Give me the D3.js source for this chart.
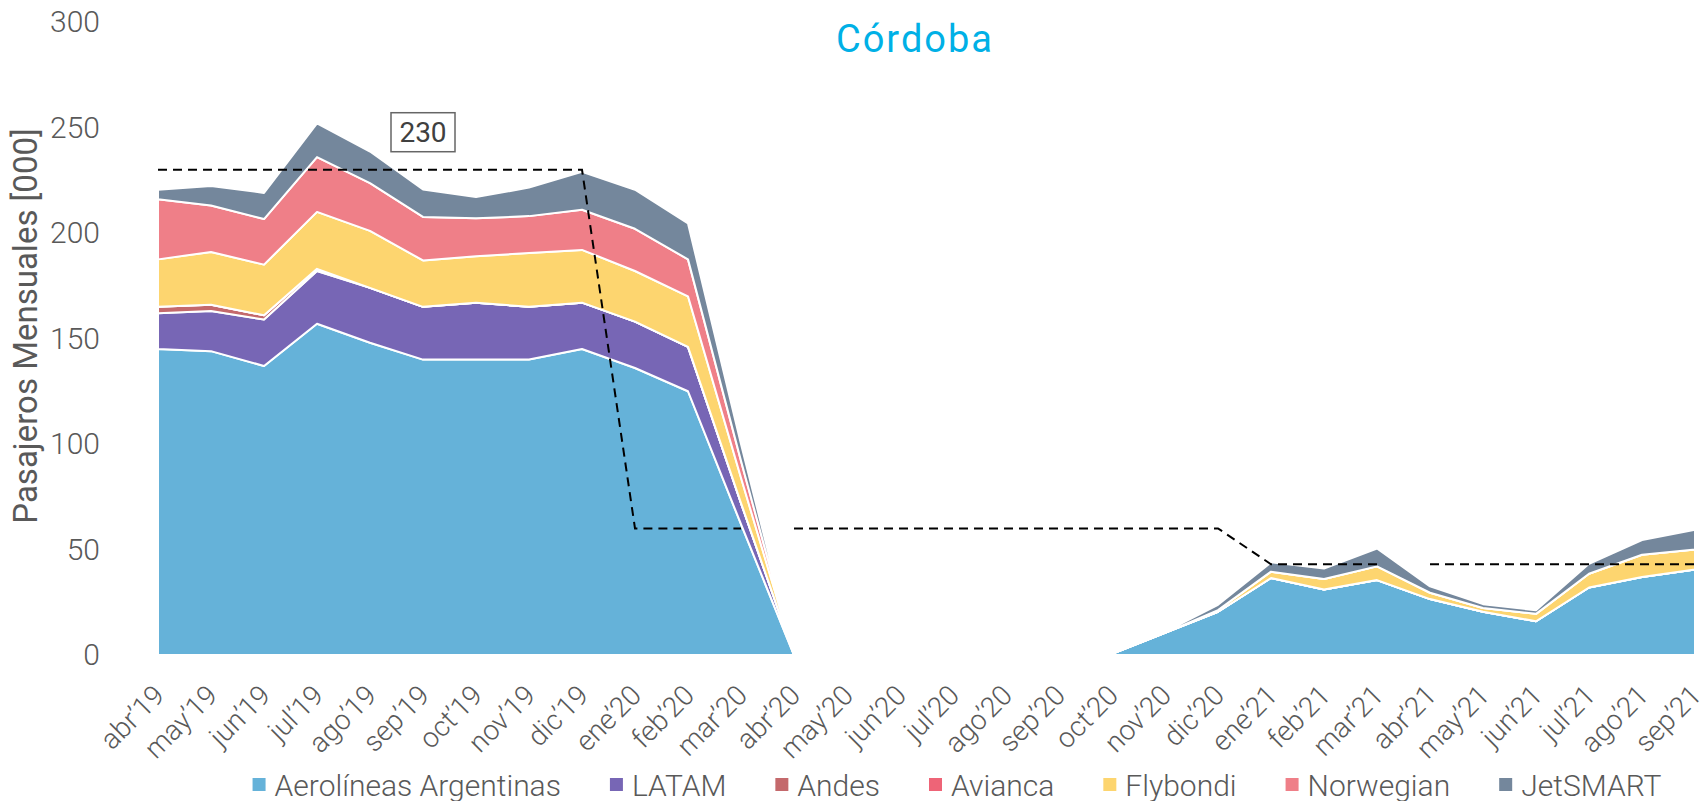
<!DOCTYPE html>
<html>
<head>
<meta charset="utf-8">
<script src="https://cdn.jsdelivr.net/npm/d3@7"></script>
<style>
  body { margin: 0; background: #fff; }
  text { font-family: Roboto, "Noto Sans", sans-serif; }
</style>
</head>
<body>
<div id="chart"></div>
<script>
const w = 1708;
const h = 801;

// months on the x axis
const months = ["abr’19","may’19","jun’19","jul’19","ago’19","sep’19","oct’19","nov’19","dic’19",
  "ene’20","feb’20","mar’20","abr’20","may’20","jun’20","jul’20","ago’20","sep’20","oct’20","nov’20","dic’20",
  "ene’21","feb’21","mar’21","abr’21","may’21","jun’21","jul’21","ago’21","sep’21"];

// monthly passengers [000] per airline
const aerolineas = [145,144,137,157,148,140,140,140,145,136,125,62,0,0,0,0,0,0,0.5,10.5,20.5,36.5,31,35.5,26.5,20.5,16,32,37,40.5];
const latam      = [17,19,22,25,26,25,27,25,22,22,21,10,0,0,0,0,0,0,0,0,0,0,0,0,0,0,0,0,0,0];
const andes      = [3,3,2,1,0,0,0,0,0,0,0,0,0,0,0,0,0,0,0,0,0,0,0,0,0,0,0,0,0,0];
const avianca    = [0,0,0,0,0,0,0,0,0,0,0,0,0,0,0,0,0,0,0,0,0,0,0,0,0,0,0,0,0,0];
const flybondi   = [22.5,25,24,27,27,22,22,25.5,25,24,24,12,0,0,0,0,0,0,0,0,0.8,3,5,6.5,3,1.8,3.5,6.5,10.5,9.5];
const norwegian  = [28.5,22,21.6,26,22.6,20.6,18,17.5,19,20,17.5,8,0,0,0,0,0,0,0,0,0,0,0,0,0,0,0,0,0,0];
const jetsmart   = [4.5,9.3,12.4,16,15,13,10,13.5,18,18.5,17,8,0,0,0,0,0,0,0,0.5,2.5,4.4,5,8.5,3,1.8,1.7,4.7,7,9.4];

const airlines = ["Aerolíneas Argentinas","LATAM","Andes","Avianca","Flybondi","Norwegian","JetSMART"];
const series = [aerolineas, latam, andes, avianca, flybondi, norwegian, jetsmart];
const colors = ["#65b2d9","#7766b5","#c4696c","#ee6477","#fdd56f","#ef7f88","#74879c"];

// dashed reference line (yearly level), no segment after these months
const refValues = [230,230,230,230,230,230,230,230,230,
  60,60,60,60,60,60,60,60,60,60,60,60,
  43,43,43,43,43,43,43,43,43];
const refBreaks = ["mar’20","mar’21"];

const yTicks = [0,50,100,150,200,250,300];
const labelMonth = "sep’19";
const labelValue = 248;
const labelText = "230";

const svg = d3.select("#chart").append("svg")
  .attr("width", w)
  .attr("height", h);

const x = d3.scalePoint().domain(months).range([158, 1695]);
const y = d3.scaleLinear().domain([0, 300]).range([655, 22]);

// table for the stack
const table = months.map((m, i) => {
  const row = {month: m};
  airlines.forEach((a, j) => row[a] = series[j][i]);
  return row;
});

const stacked = d3.stack().keys(airlines)(table);

const area = d3.area()
  .x(d => x(d.data.month))
  .y0(d => y(d[0]))
  .y1(d => y(d[1]));

svg.append("g")
  .selectAll("path")
  .data(stacked)
  .enter()
  .append("path")
  .attr("d", area)
  .attr("fill", (d, i) => colors[i])
  .attr("stroke", "#fff")
  .attr("stroke-width", 2)
  .attr("stroke-linejoin", "round");

// dashed line, split into pieces
let pieces = [];
let cur = [];
months.forEach((m, i) => {
  cur.push({month: m, v: refValues[i]});
  if (refBreaks.includes(m)) {
    pieces.push(cur);
    cur = [];
  }
});
if (cur.length) pieces.push(cur);

const line = d3.line()
  .x(d => x(d.month))
  .y(d => y(d.v));

svg.append("g")
  .selectAll("path")
  .data(pieces.filter(p => p.length > 1))
  .enter()
  .append("path")
  .attr("d", line)
  .attr("fill", "none")
  .attr("stroke", "#000")
  .attr("stroke-width", 2)
  .attr("stroke-dasharray", "9,6");

// value label box
const lx = x(labelMonth);
const ly = y(labelValue);
svg.append("rect")
  .attr("x", lx - 32)
  .attr("y", ly - 19)
  .attr("width", 64)
  .attr("height", 39)
  .attr("fill", "#fff")
  .attr("stroke", "#666")
  .attr("stroke-width", 1.5);
svg.append("text")
  .attr("x", lx)
  .attr("y", ly)
  .attr("dy", "0.35em")
  .attr("text-anchor", "middle")
  .style("font-size", "28px")
  .style("fill", "#404040")
  .text(labelText);

// y axis
const yAxis = svg.append("g")
  .attr("transform", "translate(100,0)")
  .call(d3.axisLeft(y).tickValues(yTicks).tickSize(0).tickPadding(0));
yAxis.select(".domain").remove();
yAxis.selectAll("text")
  .style("font-size", "30px")
  .style("font-weight", 300)
  .style("fill", "#595959")
  .style("font-family", "Roboto, sans-serif");

// x axis labels
svg.append("g")
  .selectAll("text")
  .data(months)
  .enter()
  .append("text")
  .attr("transform", d => `translate(${x(d) + 8},697) rotate(-45)`)
  .attr("text-anchor", "end")
  .style("font-size", "28px")
  .style("font-weight", 300)
  .style("fill", "#595959")
  .text(d => d);

// y title
svg.append("text")
  .attr("transform", "translate(37,326) rotate(-90)")
  .attr("text-anchor", "middle")
  .style("font-size", "33px")
  .style("fill", "#595959")
  .text("Pasajeros Mensuales [000]");

// title
svg.append("text")
  .attr("x", 915)
  .attr("y", 52)
  .attr("text-anchor", "middle")
  .style("font-size", "38px")
  .style("letter-spacing", "2px")
  .style("fill", "#00b0e6")
  .text("Córdoba");

// legend
const legend = svg.append("g");
const items = legend.selectAll("g")
  .data(airlines)
  .enter()
  .append("g");
items.append("rect")
  .attr("width", 13)
  .attr("height", 13)
  .attr("y", -7)
  .attr("fill", (d, i) => colors[i]);
items.append("text")
  .attr("x", 22)
  .attr("dy", "0.35em")
  .style("font-size", "30px")
  .style("font-weight", 300)
  .style("fill", "#595959")
  .text(d => d);

let offset = 0;
const gap = 49;
items.each(function() {
  const tw = this.querySelector("text").getComputedTextLength();
  d3.select(this).attr("data-x", offset);
  offset += 22 + tw + gap;
});
const total = offset - gap;
const startX = 957 - total / 2;
items.attr("transform", function() {
  return `translate(${startX + (+this.getAttribute("data-x"))},785)`;
});
</script>
</body>
</html>
